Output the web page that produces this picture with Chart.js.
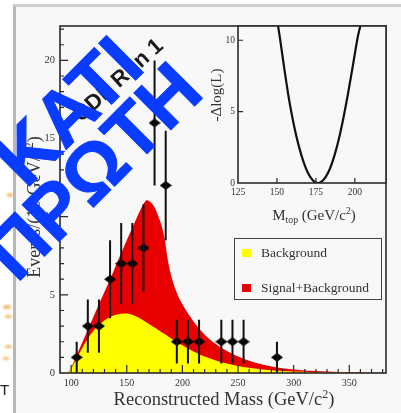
<!DOCTYPE html>
<html lang="el">
<head>
<meta charset="utf-8">
<title>CDF Run 1 – Reconstructed Mass</title>
<script src="https://cdn.jsdelivr.net/npm/chart.js@4.4.1/dist/chart.umd.min.js"></script>
<style>
  html, body { margin:0; padding:0; width:401px; height:413px; overflow:hidden; background:#fff; }
  body { position:relative; font-family:"Liberation Serif","Times New Roman",serif; color:#333; }
  #sheet { position:absolute; left:13px; top:4px; right:0; bottom:0; background:#f8f8f8;
           border-left:3px solid #b8b8b8; border-top:3px solid #d0d0d0; }
  canvas { position:absolute; }
  #mainChart { left:0; top:0; }
  #insetChart { left:200px; top:0; }
  .lbl { position:absolute; white-space:nowrap; line-height:1; color:#333; }
  .rot { transform:translate(-50%,-50%) rotate(-90deg); }
  .ctr { transform:translate(-50%,-50%); }
  .sup { font-size:65%; position:relative; top:-0.6em; }
  .sub { font-size:65%; position:relative; top:0.35em; }
  #legend { position:absolute; left:234px; top:238px; width:146px; height:60px;
            border:1.5px solid #444; background:#f8f8f8; }
  .key { position:absolute; left:7px; width:9px; height:8px; }
  .keytxt { position:absolute; left:26px; font-size:13.5px; line-height:1; color:#333; white-space:nowrap; }
  .stamp { position:absolute; font:bold 22px "Liberation Sans", Arial, sans-serif; color:#1a1a1a;
           transform:translate(-50%,-50%) rotate(-42deg); white-space:nowrap; line-height:1; }
  .overlay { position:absolute; font:bold 76px "Liberation Sans", Arial, sans-serif; color:#0a3cff;
             -webkit-text-stroke:1px #0a3cff;
             transform:translate(-50%,-50%) rotate(-45deg); white-space:nowrap; line-height:1; }
  .blob { position:absolute; background:#f3bd6a; border-radius:3px; filter:blur(0.8px); }
  .edge { position:absolute; font:15px "Liberation Sans", Arial, sans-serif; color:#222; line-height:1; }
</style>
</head>
<body>
<div id="sheet"></div>
<canvas id="mainChart" width="401" height="413"></canvas>
<canvas id="insetChart" width="201" height="200"></canvas>

<div class="lbl ctr" style="left:224px; top:399px; font-size:18.5px;">Reconstructed Mass (GeV/c<span class="sup">2</span>)</div>
<div class="lbl rot" style="left:34px; top:207px; font-size:18px;">Events/(10 GeV/c<span class="sup">2</span>)</div>
<div class="lbl rot" style="left:216px; top:95px; font-size:15px;">-&Delta;log(L)</div>
<div class="lbl ctr" style="left:314px; top:215px; font-size:15px;">M<span class="sub">top</span> (GeV/c<span class="sup">2</span>)</div>

<div id="legend">
  <div class="key" style="top:10px; background:#ffff00;"></div>
  <div class="keytxt" id="legBg" style="top:7px;"></div>
  <div class="key" style="top:45px; background:#e80000;"></div>
  <div class="keytxt" id="legSb" style="top:42px;"></div>
</div>

<div class="stamp" style="left:118px; top:80px;">CDF Run 1</div>

<div class="blob" style="left:7px; top:193px; width:6px; height:4px;"></div>
<div class="blob" style="left:3px; top:305px; width:8px; height:4px;"></div>
<div class="blob" style="left:5px; top:315px; width:7px; height:3px;"></div>
<div class="blob" style="left:5px; top:345px; width:7px; height:3px;"></div>
<div class="blob" style="left:3px; top:357px; width:6px; height:3px;"></div>
<div class="edge" style="left:0px; top:382px;">T</div>

<div class="overlay" style="left:68px; top:111px;">ΚΑΤΙ</div>
<div class="overlay" style="left:93px; top:171px;">ΠΡΩΤΗ</div>

<script>
// Events per 10 GeV/c^2 bin (bin centres) with their statistical errors
const massBins    = [105, 115, 125, 135, 145, 155, 165, 175, 185, 195, 205, 215, 235, 245, 255, 285];
const eventCounts = [1, 3, 3, 6, 7, 7, 8, 16, 12, 2, 2, 2, 2, 2, 2, 1];
const eventErrors = [1, 1.7, 1.7, 2.5, 2.6, 2.6, 2.8, 4, 3.5, 1.4, 1.4, 1.4, 1.4, 1.4, 1.4, 1];

// Expected shapes: background only and signal + background
const curveMass = [92, 96, 100, 105, 110, 115, 120, 125, 130, 135, 140, 145, 150, 155, 160, 165, 168, 171, 175, 178,
                   181, 184, 187, 190, 193, 196, 200, 205, 210, 215, 220, 230, 240, 250, 260, 270, 280, 290, 300, 320,
                   340, 360, 383];
const backgroundShape = [0, 0, 0.3, 0.95, 1.6, 2.2, 2.7, 3.08, 3.38, 3.58, 3.72, 3.79, 3.8, 3.72, 3.56, 3.36, 3.23, 3.09, 2.91, 2.77,
                         2.63, 2.49, 2.35, 2.21, 2.07, 1.94, 1.77, 1.56, 1.37, 1.2, 1.05, 0.8, 0.6, 0.45, 0.33, 0.24, 0.17, 0.12, 0.09, 0.05,
                         0.03, 0.015, 0.005];
const signalPlusBackground = [0, 0, 0.35, 1.15, 1.95, 2.77, 3.59, 4.4, 5.2, 6.0, 6.85, 7.66, 8.5, 9.3, 10.1, 10.8, 11.05, 10.95, 10.6, 10.1,
                              9.5, 8.6, 7.2, 6.2, 5.5, 4.95, 4.4, 3.8, 3.3, 2.85, 2.45, 1.85, 1.4, 1.05, 0.78, 0.57, 0.42, 0.31, 0.22, 0.12,
                              0.06, 0.03, 0.01];

// Likelihood scan versus top mass
const scanMass  = [150, 152, 155, 158, 161, 164, 167, 170, 173, 175, 176.5, 178, 181, 184, 187, 190, 193, 196, 199, 202, 204];
const scanValue = [11.5, 10.1, 7.8, 5.7, 4.0, 2.6, 1.5, 0.68, 0.19, 0.03, 0, 0.05, 0.38, 1.0, 1.95, 3.2, 4.75, 6.5, 8.4, 10.3, 11.2];

const seriesNames = ['Background', 'Signal+Background'];
const xTickLabels = [100, 150, 200, 250, 300, 350];
const yTickLabels = [0, 5, 10, 15, 20];
const scanXTicks  = [125, 150, 175, 200];
const scanYTicks  = [0, 5, 10];

document.getElementById('legBg').textContent = seriesNames[0];
document.getElementById('legSb').textContent = seriesNames[1];

Chart.defaults.font.family = "'Liberation Serif', 'Times New Roman', serif";
Chart.defaults.color = '#333';

const pts = (xs, ys) => xs.map((x, i) => ({ x, y: ys[i] }));

// filled diamond used as the data marker
const diamond = document.createElement('canvas');
diamond.width = 12; diamond.height = 9;
(() => {
  const c = diamond.getContext('2d');
  c.fillStyle = '#000';
  c.beginPath(); c.moveTo(6, 0); c.lineTo(12, 4.5); c.lineTo(6, 9); c.lineTo(0, 4.5); c.closePath(); c.fill();
})();

// closed frame with inward tick marks
function frameTicks(spec) {
  return {
    id: 'frameTicks',
    afterDraw(chart) {
      const { ctx, chartArea: a, scales: { x, y } } = chart;
      ctx.save();
      ctx.strokeStyle = '#2a2a2a';
      ctx.lineWidth = spec.frameWidth;
      ctx.strokeRect(a.left, a.top, a.right - a.left, a.bottom - a.top);
      ctx.lineWidth = 1.2;
      ctx.beginPath();
      x.ticks.forEach(t => {
        const px = x.getPixelForValue(t.value);
        const len = spec.xMajor.includes(t.value) ? spec.major : spec.minor;
        if (!len || px <= a.left + 1 || px >= a.right - 1) return;
        ctx.moveTo(px, a.bottom); ctx.lineTo(px, a.bottom - len);
      });
      y.ticks.forEach(t => {
        const py = y.getPixelForValue(t.value);
        const len = spec.yMajor.includes(t.value) ? spec.major : spec.minor;
        if (!len || py >= a.bottom - 1 || py <= a.top + 1) return;
        ctx.moveTo(a.left, py); ctx.lineTo(a.left + len, py);
      });
      ctx.stroke();
      ctx.restore();
    }
  };
}

// vertical error bars on the data points
const errorBars = {
  id: 'errorBars',
  afterDatasetsDraw(chart) {
    const meta = chart.getDatasetMeta(2);
    const y = chart.scales.y;
    const ctx = chart.ctx;
    ctx.save();
    ctx.strokeStyle = '#111';
    ctx.lineWidth = 2;
    ctx.beginPath();
    meta.data.forEach((el, i) => {
      const lo = Math.max(0, eventCounts[i] - eventErrors[i]);
      const hi = eventCounts[i] + eventErrors[i];
      ctx.moveTo(el.x, y.getPixelForValue(lo));
      ctx.lineTo(el.x, y.getPixelForValue(hi));
    });
    ctx.stroke();
    ctx.restore();
  }
};

new Chart(document.getElementById('mainChart'), {
  type: 'line',
  data: {
    datasets: [
      { label: seriesNames[0], data: pts(curveMass, backgroundShape), backgroundColor: '#ffff00',
        borderWidth: 0, pointRadius: 0, fill: 'origin', tension: 0.4, cubicInterpolationMode: 'monotone', order: 2 },
      { label: seriesNames[1], data: pts(curveMass, signalPlusBackground), backgroundColor: '#e80000',
        borderWidth: 0, pointRadius: 0, fill: 'origin', tension: 0.4, cubicInterpolationMode: 'monotone', order: 3 },
      { label: 'Data', data: pts(massBins, eventCounts), showLine: false, pointStyle: diamond,
        pointRadius: 5, backgroundColor: '#000', borderColor: '#000', order: 1 }
    ]
  },
  options: {
    responsive: false, animation: false, devicePixelRatio: 1,
    layout: { padding: { left: 0, top: 26, right: 15, bottom: 0 } },
    plugins: { legend: { display: false }, tooltip: { enabled: false } },
    scales: {
      x: {
        type: 'linear', min: 90, max: 383,
        afterFit: s => { s.height = 40; },
        grid: { display: false, drawTicks: false }, border: { display: false },
        ticks: { stepSize: 10, includeBounds: false, autoSkip: false, maxRotation: 0, padding: 4,
                 font: { size: 10 }, callback: v => xTickLabels.includes(v) ? String(v) : '' }
      },
      y: {
        min: 0, max: 22.2,
        afterFit: s => { s.width = 60; },
        grid: { display: false, drawTicks: false }, border: { display: false },
        ticks: { stepSize: 1, includeBounds: false, autoSkip: false, padding: 5,
                 font: { size: 10.5 }, callback: v => yTickLabels.includes(v) ? String(v) : '' }
      }
    }
  },
  plugins: [frameTicks({ xMajor: xTickLabels, yMajor: yTickLabels, major: 8, minor: 4, frameWidth: 1.6 }), errorBars]
});

new Chart(document.getElementById('insetChart'), {
  type: 'line',
  data: {
    datasets: [
      { data: pts(scanMass, scanValue), borderColor: '#111', borderWidth: 2.2, pointRadius: 0,
        fill: false, tension: 0.4, cubicInterpolationMode: 'monotone' }
    ]
  },
  options: {
    responsive: false, animation: false, devicePixelRatio: 1,
    layout: { padding: { left: 0, top: 26, right: 15, bottom: 0 } },
    plugins: { legend: { display: false }, tooltip: { enabled: false } },
    scales: {
      x: {
        type: 'linear', min: 125, max: 220,
        afterFit: s => { s.height = 17; },
        grid: { display: false, drawTicks: false }, border: { display: false },
        ticks: { stepSize: 25, includeBounds: false, autoSkip: false, maxRotation: 0, padding: 4,
                 font: { size: 9.5 }, callback: v => scanXTicks.includes(v) ? String(v) : '' }
      },
      y: {
        min: 0, max: 11,
        afterFit: s => { s.width = 38; },
        grid: { display: false, drawTicks: false }, border: { display: false },
        ticks: { stepSize: 5, includeBounds: false, autoSkip: false, padding: 3,
                 font: { size: 9.5 }, callback: v => scanYTicks.includes(v) ? String(v) : '' }
      }
    }
  },
  plugins: [{
    id: 'insetBg',
    beforeDraw(chart) {
      const { ctx, chartArea: a } = chart;
      ctx.save(); ctx.fillStyle = '#f8f8f8';
      ctx.fillRect(a.left, a.top, a.right - a.left, a.bottom - a.top); ctx.restore();
    }
  }, frameTicks({ xMajor: scanXTicks, yMajor: scanYTicks, major: 5, minor: 0, frameWidth: 1.6 })]
});
</script>
</body>
</html>
